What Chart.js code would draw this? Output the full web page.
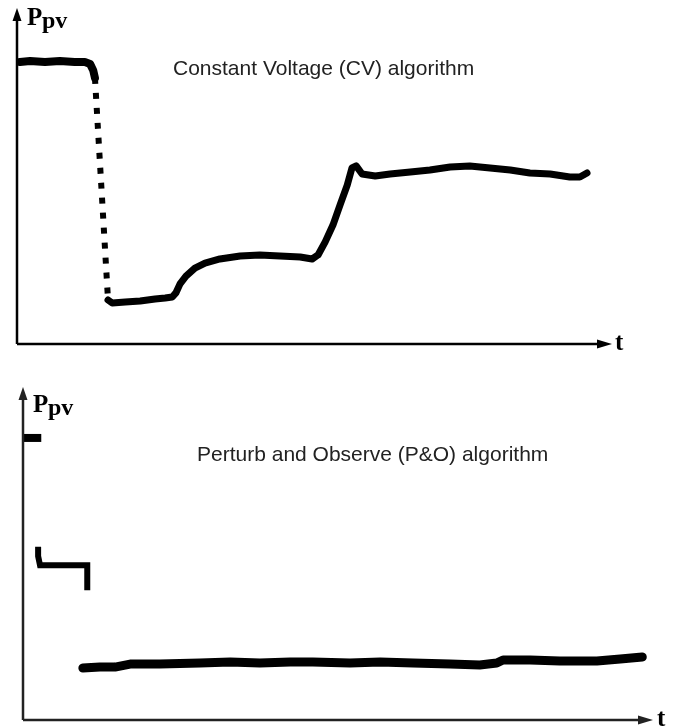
<!DOCTYPE html>
<html>
<head>
<meta charset="utf-8">
<script src="https://cdn.jsdelivr.net/npm/chart.js@4"></script>
<style>
  html, body { margin: 0; padding: 0; background: #fff; }
  body { width: 674px; height: 727px; position: relative; overflow: hidden; }
  canvas { position: absolute; left: 0; }
  #c1 { top: 0; }
  #c2 { top: 370px; }
</style>
</head>
<body>
<canvas id="c1" width="674" height="370"></canvas>
<canvas id="c2" width="674" height="357"></canvas>
<script>
// ---------- Data (time t and PV power Ppv in relative units, 0..100) ----------
// Constant Voltage (CV) algorithm
const cvT_start   = [0.5, 2.2, 4.7, 7.2, 9.7, 11.4, 12.3, 12.8, 13.1];
const cvP_start   = [83.9, 84.2, 83.9, 84.2, 83.9, 83.9, 83.3, 81.5, 79.2];
const cvT_drop    = [13.1, 15.3];
const cvP_drop    = [79.2, 13.1];
const cvT_rest    = [15.3, 16.0, 18.2, 20.7, 23.2, 24.9, 26.1, 26.7, 27.4, 28.4, 29.9, 31.6, 34.1, 37.5, 40.8, 44.2, 47.6, 49.6, 50.6, 51.8, 53.1, 54.3, 55.5, 56.3, 57.0, 58.0, 60.2, 62.7, 66.1, 69.4, 72.8, 76.1, 79.5, 82.9, 86.2, 89.6, 92.9, 94.6, 95.8];
const cvP_rest    = [13.1, 12.2, 12.5, 12.8, 13.4, 13.7, 14.0, 15.2, 17.9, 20.2, 22.6, 24.1, 25.3, 26.2, 26.5, 26.2, 25.9, 25.3, 26.5, 30.4, 35.4, 41.4, 47.3, 52.4, 53.0, 50.6, 50.0, 50.6, 51.2, 51.8, 52.7, 53.0, 52.4, 51.8, 50.9, 50.6, 49.7, 49.7, 50.9];

// Perturb and Observe (P&O) algorithm
const poT_first   = [0.0, 2.9];
const poP_first   = [84.7, 84.7];
const poT_second  = [2.4, 2.4, 2.7, 10.2, 10.2];
const poP_second  = [52.0, 49.2, 46.5, 46.5, 39.0];
const poT_track   = [9.5, 12.2, 14.6, 17.0, 21.7, 28.1, 32.9, 37.6, 42.4, 46.0, 51.9, 56.7, 61.9, 67.8, 72.5, 75.2, 76.2, 80.5, 85.2, 91.1, 94.8, 98.3];
const poP_track   = [15.6, 15.9, 15.9, 16.8, 16.8, 17.1, 17.4, 17.1, 17.4, 17.4, 17.1, 17.4, 17.1, 16.8, 16.5, 17.1, 18.0, 18.0, 17.7, 17.7, 18.3, 18.9];

const titles = ["Constant Voltage (CV) algorithm", "Perturb and Observe (P&O) algorithm"];
const yLabel = ["P", "pv"];
const xLabel = "t";

function pts(xs, ys) { return xs.map((x, i) => ({ x: x, y: ys[i] })); }

function axesPlugin(cfg) {
  return {
    id: 'axesArrows',
    afterDraw(chart) {
      const ctx = chart.ctx, a = chart.chartArea;
      ctx.save();
      ctx.strokeStyle = cfg.axisColor; ctx.fillStyle = cfg.axisColor; ctx.lineWidth = 2.5;
      // y axis
      ctx.beginPath(); ctx.moveTo(a.left, a.bottom); ctx.lineTo(a.left, a.top + 8); ctx.stroke();
      ctx.beginPath(); ctx.moveTo(a.left, a.top); ctx.lineTo(a.left - 4.5, a.top + 13); ctx.lineTo(a.left + 4.5, a.top + 13); ctx.closePath(); ctx.fill();
      // x axis
      ctx.beginPath(); ctx.moveTo(a.left, a.bottom); ctx.lineTo(a.right - 8, a.bottom); ctx.stroke();
      ctx.beginPath(); ctx.moveTo(a.right, a.bottom); ctx.lineTo(a.right - 15, a.bottom - 4.5); ctx.lineTo(a.right - 15, a.bottom + 4.5); ctx.closePath(); ctx.fill();
      // labels
      ctx.fillStyle = '#000';
      ctx.textAlign = 'left'; ctx.textBaseline = 'alphabetic';
      ctx.font = 'bold 25px "Liberation Serif", "DejaVu Serif", serif';
      ctx.fillText(yLabel[0], a.left + cfg.pDx, a.top + cfg.pDy);
      ctx.font = 'bold 24px "Liberation Serif", "DejaVu Serif", serif';
      ctx.fillText(yLabel[1], a.left + cfg.pDx + 15, a.top + cfg.pDy + 3);
      ctx.font = 'bold 25px "Liberation Serif", "DejaVu Serif", serif';
      ctx.fillText(xLabel, a.right + cfg.tDx, a.bottom + cfg.tDy);
      ctx.fillStyle = '#222';
      ctx.font = '21px "Liberation Sans", Arial, sans-serif';
      ctx.fillText(cfg.title, cfg.titleX, cfg.titleY);
      ctx.restore();
    }
  };
}

function makeChart(id, datasets, padding, cfg) {
  return new Chart(document.getElementById(id), {
    type: 'line',
    data: { datasets: datasets },
    options: {
      responsive: false,
      animation: false,
      devicePixelRatio: 1,
      layout: { padding: padding },
      scales: {
        x: { type: 'linear', min: 0, max: 100, display: false },
        y: { type: 'linear', min: 0, max: 100, display: false }
      },
      elements: { point: { radius: 0 }, line: { tension: 0, borderJoinStyle: 'round', borderCapStyle: 'round' } },
      plugins: { legend: { display: false }, tooltip: { enabled: false }, title: { display: false } }
    },
    plugins: [axesPlugin(cfg)]
  });
}

makeChart('c1', [
  { data: pts(cvT_start, cvP_start), borderColor: '#000', borderWidth: 8 },
  { data: pts(cvT_drop, cvP_drop), borderColor: '#000', borderWidth: 6, borderDash: [6, 9], borderCapStyle: 'butt' },
  { data: pts(cvT_rest, cvP_rest), borderColor: '#000', borderWidth: 7 }
], { left: 17, right: 62, top: 8, bottom: 26 },
{ axisColor: '#000', pDx: 10, pDy: 17, tDx: 3, tDy: 6, title: titles[0], titleX: 173, titleY: 75 });

makeChart('c2', [
  { data: pts(poT_first, poP_first), borderColor: '#000', borderWidth: 8, borderCapStyle: 'butt' },
  { data: pts(poT_second, poP_second), borderColor: '#000', borderWidth: 6, borderJoinStyle: 'miter', borderCapStyle: 'butt' },
  { data: pts(poT_track, poP_track), borderColor: '#000', borderWidth: 9 }
], { left: 23, right: 21, top: 17, bottom: 7 },
{ axisColor: '#222', pDx: 10, pDy: 25, tDx: 4, tDy: 6, title: titles[1], titleX: 197, titleY: 91 });
</script>
</body>
</html>
